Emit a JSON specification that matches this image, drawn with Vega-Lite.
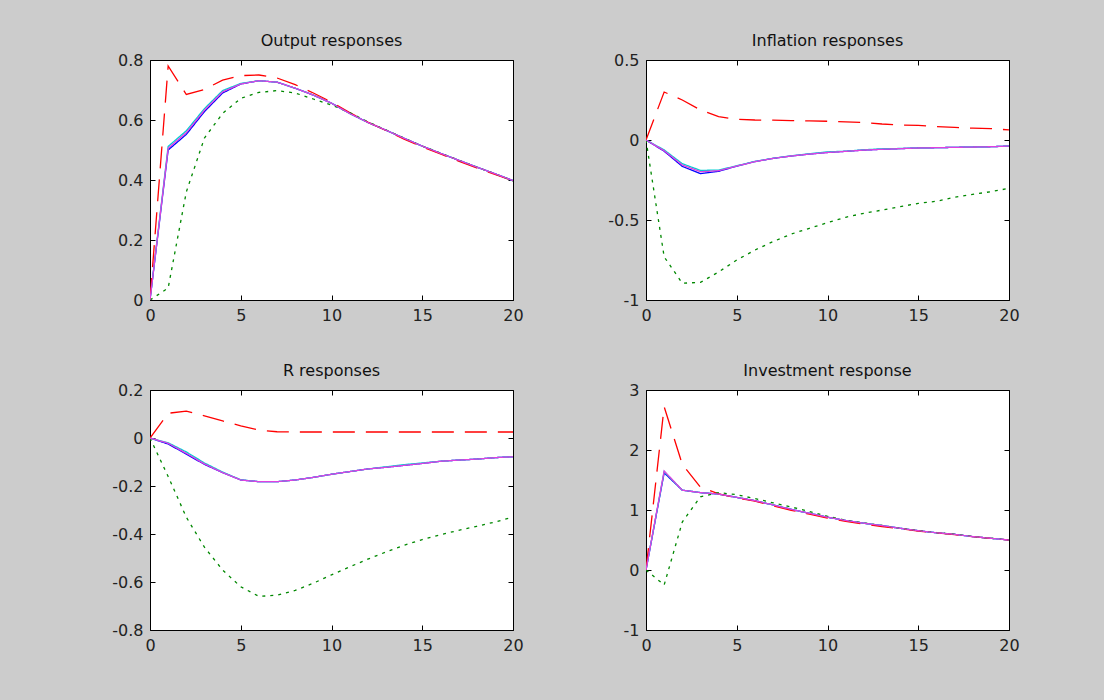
{
"$schema": "https://vega.github.io/schema/vega-lite/v6.json",
"background": "#cccccc",
"padding": {"left": 111, "top": 32, "right": 86, "bottom": 46},
"autosize": {"type": "pad"},
"bounds": "flush",
"columns": 2,
"spacing": {"row": 90, "column": 133},
"data": {"name": "d"},
"datasets": {"d": [
{"p":"o","s":"b","t":0,"v":0},{"p":"o","s":"b","t":1,"v":0.5},{"p":"o","s":"b","t":2,"v":0.552},{"p":"o","s":"b","t":3,"v":0.628},{"p":"o","s":"b","t":4,"v":0.69},{"p":"o","s":"b","t":5,"v":0.72},{"p":"o","s":"b","t":6,"v":0.731},{"p":"o","s":"b","t":7,"v":0.726},{"p":"o","s":"b","t":8,"v":0.706},{"p":"o","s":"b","t":9,"v":0.683},{"p":"o","s":"b","t":10,"v":0.656},{"p":"o","s":"b","t":11,"v":0.622},{"p":"o","s":"b","t":12,"v":0.592},{"p":"o","s":"b","t":13,"v":0.566},{"p":"o","s":"b","t":14,"v":0.539},{"p":"o","s":"b","t":15,"v":0.513},{"p":"o","s":"b","t":16,"v":0.489},{"p":"o","s":"b","t":17,"v":0.466},{"p":"o","s":"b","t":18,"v":0.443},{"p":"o","s":"b","t":19,"v":0.421},{"p":"o","s":"b","t":20,"v":0.398},
{"p":"o","s":"c","t":0,"v":0},{"p":"o","s":"c","t":1,"v":0.512},{"p":"o","s":"c","t":2,"v":0.564},{"p":"o","s":"c","t":3,"v":0.638},{"p":"o","s":"c","t":4,"v":0.698},{"p":"o","s":"c","t":5,"v":0.722},{"p":"o","s":"c","t":6,"v":0.731},{"p":"o","s":"c","t":7,"v":0.726},{"p":"o","s":"c","t":8,"v":0.706},{"p":"o","s":"c","t":9,"v":0.683},{"p":"o","s":"c","t":10,"v":0.656},{"p":"o","s":"c","t":11,"v":0.622},{"p":"o","s":"c","t":12,"v":0.592},{"p":"o","s":"c","t":13,"v":0.566},{"p":"o","s":"c","t":14,"v":0.539},{"p":"o","s":"c","t":15,"v":0.513},{"p":"o","s":"c","t":16,"v":0.489},{"p":"o","s":"c","t":17,"v":0.466},{"p":"o","s":"c","t":18,"v":0.443},{"p":"o","s":"c","t":19,"v":0.421},{"p":"o","s":"c","t":20,"v":0.398},
{"p":"o","s":"r","t":0,"v":0},{"p":"o","s":"r","t":1,"v":0.78},{"p":"o","s":"r","t":2,"v":0.685},{"p":"o","s":"r","t":3,"v":0.702},{"p":"o","s":"r","t":4,"v":0.733},{"p":"o","s":"r","t":5,"v":0.748},{"p":"o","s":"r","t":6,"v":0.75},{"p":"o","s":"r","t":7,"v":0.74},{"p":"o","s":"r","t":8,"v":0.718},{"p":"o","s":"r","t":9,"v":0.69},{"p":"o","s":"r","t":10,"v":0.66},{"p":"o","s":"r","t":11,"v":0.625},{"p":"o","s":"r","t":12,"v":0.593},{"p":"o","s":"r","t":13,"v":0.565},{"p":"o","s":"r","t":14,"v":0.536},{"p":"o","s":"r","t":15,"v":0.51},{"p":"o","s":"r","t":16,"v":0.487},{"p":"o","s":"r","t":17,"v":0.463},{"p":"o","s":"r","t":18,"v":0.44},{"p":"o","s":"r","t":19,"v":0.419},{"p":"o","s":"r","t":20,"v":0.397},
{"p":"o","s":"g","t":0,"v":0},{"p":"o","s":"g","t":1,"v":0.04},{"p":"o","s":"g","t":2,"v":0.36},{"p":"o","s":"g","t":3,"v":0.54},{"p":"o","s":"g","t":4,"v":0.622},{"p":"o","s":"g","t":5,"v":0.672},{"p":"o","s":"g","t":6,"v":0.692},{"p":"o","s":"g","t":7,"v":0.698},{"p":"o","s":"g","t":8,"v":0.69},{"p":"o","s":"g","t":9,"v":0.67},{"p":"o","s":"g","t":10,"v":0.65},{"p":"o","s":"g","t":11,"v":0.625},{"p":"o","s":"g","t":12,"v":0.594},{"p":"o","s":"g","t":13,"v":0.567},{"p":"o","s":"g","t":14,"v":0.54},{"p":"o","s":"g","t":15,"v":0.513},{"p":"o","s":"g","t":16,"v":0.49},{"p":"o","s":"g","t":17,"v":0.466},{"p":"o","s":"g","t":18,"v":0.443},{"p":"o","s":"g","t":19,"v":0.421},{"p":"o","s":"g","t":20,"v":0.397},
{"p":"o","s":"m","t":0,"v":0},{"p":"o","s":"m","t":1,"v":0.506},{"p":"o","s":"m","t":2,"v":0.558},{"p":"o","s":"m","t":3,"v":0.633},{"p":"o","s":"m","t":4,"v":0.694},{"p":"o","s":"m","t":5,"v":0.72},{"p":"o","s":"m","t":6,"v":0.731},{"p":"o","s":"m","t":7,"v":0.726},{"p":"o","s":"m","t":8,"v":0.706},{"p":"o","s":"m","t":9,"v":0.683},{"p":"o","s":"m","t":10,"v":0.656},{"p":"o","s":"m","t":11,"v":0.622},{"p":"o","s":"m","t":12,"v":0.592},{"p":"o","s":"m","t":13,"v":0.566},{"p":"o","s":"m","t":14,"v":0.539},{"p":"o","s":"m","t":15,"v":0.513},{"p":"o","s":"m","t":16,"v":0.489},{"p":"o","s":"m","t":17,"v":0.466},{"p":"o","s":"m","t":18,"v":0.443},{"p":"o","s":"m","t":19,"v":0.421},{"p":"o","s":"m","t":20,"v":0.398},

{"p":"i","s":"b","t":0,"v":0},{"p":"i","s":"b","t":1,"v":-0.07},{"p":"i","s":"b","t":2,"v":-0.165},{"p":"i","s":"b","t":3,"v":-0.21},{"p":"i","s":"b","t":4,"v":-0.196},{"p":"i","s":"b","t":5,"v":-0.163},{"p":"i","s":"b","t":6,"v":-0.135},{"p":"i","s":"b","t":7,"v":-0.115},{"p":"i","s":"b","t":8,"v":-0.1},{"p":"i","s":"b","t":9,"v":-0.088},{"p":"i","s":"b","t":10,"v":-0.078},{"p":"i","s":"b","t":11,"v":-0.071},{"p":"i","s":"b","t":12,"v":-0.063},{"p":"i","s":"b","t":13,"v":-0.058},{"p":"i","s":"b","t":14,"v":-0.054},{"p":"i","s":"b","t":15,"v":-0.05},{"p":"i","s":"b","t":16,"v":-0.048},{"p":"i","s":"b","t":17,"v":-0.046},{"p":"i","s":"b","t":18,"v":-0.044},{"p":"i","s":"b","t":19,"v":-0.042},{"p":"i","s":"b","t":20,"v":-0.038},
{"p":"i","s":"c","t":0,"v":0},{"p":"i","s":"c","t":1,"v":-0.062},{"p":"i","s":"c","t":2,"v":-0.148},{"p":"i","s":"c","t":3,"v":-0.19},{"p":"i","s":"c","t":4,"v":-0.188},{"p":"i","s":"c","t":5,"v":-0.161},{"p":"i","s":"c","t":6,"v":-0.134},{"p":"i","s":"c","t":7,"v":-0.114},{"p":"i","s":"c","t":8,"v":-0.099},{"p":"i","s":"c","t":9,"v":-0.086},{"p":"i","s":"c","t":10,"v":-0.074},{"p":"i","s":"c","t":11,"v":-0.07},{"p":"i","s":"c","t":12,"v":-0.061},{"p":"i","s":"c","t":13,"v":-0.055},{"p":"i","s":"c","t":14,"v":-0.053},{"p":"i","s":"c","t":15,"v":-0.05},{"p":"i","s":"c","t":16,"v":-0.048},{"p":"i","s":"c","t":17,"v":-0.046},{"p":"i","s":"c","t":18,"v":-0.044},{"p":"i","s":"c","t":19,"v":-0.042},{"p":"i","s":"c","t":20,"v":-0.038},
{"p":"i","s":"r","t":0,"v":0},{"p":"i","s":"r","t":1,"v":0.3},{"p":"i","s":"r","t":2,"v":0.25},{"p":"i","s":"r","t":3,"v":0.188},{"p":"i","s":"r","t":4,"v":0.146},{"p":"i","s":"r","t":5,"v":0.129},{"p":"i","s":"r","t":6,"v":0.125},{"p":"i","s":"r","t":7,"v":0.124},{"p":"i","s":"r","t":8,"v":0.121},{"p":"i","s":"r","t":9,"v":0.119},{"p":"i","s":"r","t":10,"v":0.117},{"p":"i","s":"r","t":11,"v":0.113},{"p":"i","s":"r","t":12,"v":0.11},{"p":"i","s":"r","t":13,"v":0.1},{"p":"i","s":"r","t":14,"v":0.094},{"p":"i","s":"r","t":15,"v":0.091},{"p":"i","s":"r","t":16,"v":0.084},{"p":"i","s":"r","t":17,"v":0.079},{"p":"i","s":"r","t":18,"v":0.074},{"p":"i","s":"r","t":19,"v":0.071},{"p":"i","s":"r","t":20,"v":0.063},
{"p":"i","s":"g","t":0,"v":0},{"p":"i","s":"g","t":1,"v":-0.73},{"p":"i","s":"g","t":2,"v":-0.895},{"p":"i","s":"g","t":3,"v":-0.89},{"p":"i","s":"g","t":4,"v":-0.825},{"p":"i","s":"g","t":5,"v":-0.75},{"p":"i","s":"g","t":6,"v":-0.688},{"p":"i","s":"g","t":7,"v":-0.635},{"p":"i","s":"g","t":8,"v":-0.588},{"p":"i","s":"g","t":9,"v":-0.552},{"p":"i","s":"g","t":10,"v":-0.517},{"p":"i","s":"g","t":11,"v":-0.483},{"p":"i","s":"g","t":12,"v":-0.458},{"p":"i","s":"g","t":13,"v":-0.438},{"p":"i","s":"g","t":14,"v":-0.417},{"p":"i","s":"g","t":15,"v":-0.396},{"p":"i","s":"g","t":16,"v":-0.383},{"p":"i","s":"g","t":17,"v":-0.358},{"p":"i","s":"g","t":18,"v":-0.34},{"p":"i","s":"g","t":19,"v":-0.323},{"p":"i","s":"g","t":20,"v":-0.302},
{"p":"i","s":"m","t":0,"v":0},{"p":"i","s":"m","t":1,"v":-0.067},{"p":"i","s":"m","t":2,"v":-0.156},{"p":"i","s":"m","t":3,"v":-0.198},{"p":"i","s":"m","t":4,"v":-0.192},{"p":"i","s":"m","t":5,"v":-0.163},{"p":"i","s":"m","t":6,"v":-0.135},{"p":"i","s":"m","t":7,"v":-0.115},{"p":"i","s":"m","t":8,"v":-0.1},{"p":"i","s":"m","t":9,"v":-0.088},{"p":"i","s":"m","t":10,"v":-0.078},{"p":"i","s":"m","t":11,"v":-0.071},{"p":"i","s":"m","t":12,"v":-0.063},{"p":"i","s":"m","t":13,"v":-0.058},{"p":"i","s":"m","t":14,"v":-0.054},{"p":"i","s":"m","t":15,"v":-0.05},{"p":"i","s":"m","t":16,"v":-0.048},{"p":"i","s":"m","t":17,"v":-0.046},{"p":"i","s":"m","t":18,"v":-0.044},{"p":"i","s":"m","t":19,"v":-0.042},{"p":"i","s":"m","t":20,"v":-0.038},

{"p":"r","s":"b","t":0,"v":0},{"p":"r","s":"b","t":1,"v":-0.025},{"p":"r","s":"b","t":2,"v":-0.067},{"p":"r","s":"b","t":3,"v":-0.11},{"p":"r","s":"b","t":4,"v":-0.144},{"p":"r","s":"b","t":5,"v":-0.175},{"p":"r","s":"b","t":6,"v":-0.182},{"p":"r","s":"b","t":7,"v":-0.182},{"p":"r","s":"b","t":8,"v":-0.175},{"p":"r","s":"b","t":9,"v":-0.164},{"p":"r","s":"b","t":10,"v":-0.151},{"p":"r","s":"b","t":11,"v":-0.14},{"p":"r","s":"b","t":12,"v":-0.129},{"p":"r","s":"b","t":13,"v":-0.122},{"p":"r","s":"b","t":14,"v":-0.114},{"p":"r","s":"b","t":15,"v":-0.106},{"p":"r","s":"b","t":16,"v":-0.097},{"p":"r","s":"b","t":17,"v":-0.092},{"p":"r","s":"b","t":18,"v":-0.088},{"p":"r","s":"b","t":19,"v":-0.082},{"p":"r","s":"b","t":20,"v":-0.078},
{"p":"r","s":"c","t":0,"v":0},{"p":"r","s":"c","t":1,"v":-0.02},{"p":"r","s":"c","t":2,"v":-0.058},{"p":"r","s":"c","t":3,"v":-0.104},{"p":"r","s":"c","t":4,"v":-0.142},{"p":"r","s":"c","t":5,"v":-0.174},{"p":"r","s":"c","t":6,"v":-0.182},{"p":"r","s":"c","t":7,"v":-0.182},{"p":"r","s":"c","t":8,"v":-0.175},{"p":"r","s":"c","t":9,"v":-0.164},{"p":"r","s":"c","t":10,"v":-0.151},{"p":"r","s":"c","t":11,"v":-0.14},{"p":"r","s":"c","t":12,"v":-0.129},{"p":"r","s":"c","t":13,"v":-0.12},{"p":"r","s":"c","t":14,"v":-0.111},{"p":"r","s":"c","t":15,"v":-0.104},{"p":"r","s":"c","t":16,"v":-0.097},{"p":"r","s":"c","t":17,"v":-0.092},{"p":"r","s":"c","t":18,"v":-0.088},{"p":"r","s":"c","t":19,"v":-0.082},{"p":"r","s":"c","t":20,"v":-0.078},
{"p":"r","s":"r","t":0,"v":0},{"p":"r","s":"r","t":1,"v":0.103},{"p":"r","s":"r","t":2,"v":0.112},{"p":"r","s":"r","t":3,"v":0.092},{"p":"r","s":"r","t":4,"v":0.071},{"p":"r","s":"r","t":5,"v":0.051},{"p":"r","s":"r","t":6,"v":0.033},{"p":"r","s":"r","t":7,"v":0.026},{"p":"r","s":"r","t":8,"v":0.025},{"p":"r","s":"r","t":9,"v":0.025},{"p":"r","s":"r","t":10,"v":0.025},{"p":"r","s":"r","t":11,"v":0.025},{"p":"r","s":"r","t":12,"v":0.025},{"p":"r","s":"r","t":13,"v":0.025},{"p":"r","s":"r","t":14,"v":0.025},{"p":"r","s":"r","t":15,"v":0.025},{"p":"r","s":"r","t":16,"v":0.025},{"p":"r","s":"r","t":17,"v":0.025},{"p":"r","s":"r","t":18,"v":0.025},{"p":"r","s":"r","t":19,"v":0.025},{"p":"r","s":"r","t":20,"v":0.025},
{"p":"r","s":"g","t":0,"v":0},{"p":"r","s":"g","t":1,"v":-0.16},{"p":"r","s":"g","t":2,"v":-0.33},{"p":"r","s":"g","t":3,"v":-0.455},{"p":"r","s":"g","t":4,"v":-0.55},{"p":"r","s":"g","t":5,"v":-0.62},{"p":"r","s":"g","t":6,"v":-0.66},{"p":"r","s":"g","t":7,"v":-0.655},{"p":"r","s":"g","t":8,"v":-0.635},{"p":"r","s":"g","t":9,"v":-0.605},{"p":"r","s":"g","t":10,"v":-0.57},{"p":"r","s":"g","t":11,"v":-0.537},{"p":"r","s":"g","t":12,"v":-0.505},{"p":"r","s":"g","t":13,"v":-0.475},{"p":"r","s":"g","t":14,"v":-0.447},{"p":"r","s":"g","t":15,"v":-0.423},{"p":"r","s":"g","t":16,"v":-0.403},{"p":"r","s":"g","t":17,"v":-0.385},{"p":"r","s":"g","t":18,"v":-0.368},{"p":"r","s":"g","t":19,"v":-0.35},{"p":"r","s":"g","t":20,"v":-0.33},
{"p":"r","s":"m","t":0,"v":0},{"p":"r","s":"m","t":1,"v":-0.022},{"p":"r","s":"m","t":2,"v":-0.064},{"p":"r","s":"m","t":3,"v":-0.108},{"p":"r","s":"m","t":4,"v":-0.144},{"p":"r","s":"m","t":5,"v":-0.175},{"p":"r","s":"m","t":6,"v":-0.182},{"p":"r","s":"m","t":7,"v":-0.182},{"p":"r","s":"m","t":8,"v":-0.175},{"p":"r","s":"m","t":9,"v":-0.164},{"p":"r","s":"m","t":10,"v":-0.151},{"p":"r","s":"m","t":11,"v":-0.14},{"p":"r","s":"m","t":12,"v":-0.129},{"p":"r","s":"m","t":13,"v":-0.122},{"p":"r","s":"m","t":14,"v":-0.114},{"p":"r","s":"m","t":15,"v":-0.106},{"p":"r","s":"m","t":16,"v":-0.097},{"p":"r","s":"m","t":17,"v":-0.092},{"p":"r","s":"m","t":18,"v":-0.088},{"p":"r","s":"m","t":19,"v":-0.082},{"p":"r","s":"m","t":20,"v":-0.078},

{"p":"v","s":"b","t":0,"v":0},{"p":"v","s":"b","t":1,"v":1.62},{"p":"v","s":"b","t":2,"v":1.33},{"p":"v","s":"b","t":3,"v":1.29},{"p":"v","s":"b","t":4,"v":1.265},{"p":"v","s":"b","t":5,"v":1.21},{"p":"v","s":"b","t":6,"v":1.155},{"p":"v","s":"b","t":7,"v":1.085},{"p":"v","s":"b","t":8,"v":1.01},{"p":"v","s":"b","t":9,"v":0.945},{"p":"v","s":"b","t":10,"v":0.88},{"p":"v","s":"b","t":11,"v":0.825},{"p":"v","s":"b","t":12,"v":0.78},{"p":"v","s":"b","t":13,"v":0.74},{"p":"v","s":"b","t":14,"v":0.695},{"p":"v","s":"b","t":15,"v":0.655},{"p":"v","s":"b","t":16,"v":0.62},{"p":"v","s":"b","t":17,"v":0.595},{"p":"v","s":"b","t":18,"v":0.557},{"p":"v","s":"b","t":19,"v":0.528},{"p":"v","s":"b","t":20,"v":0.5},
{"p":"v","s":"c","t":0,"v":0},{"p":"v","s":"c","t":1,"v":1.64},{"p":"v","s":"c","t":2,"v":1.33},{"p":"v","s":"c","t":3,"v":1.29},{"p":"v","s":"c","t":4,"v":1.265},{"p":"v","s":"c","t":5,"v":1.21},{"p":"v","s":"c","t":6,"v":1.155},{"p":"v","s":"c","t":7,"v":1.085},{"p":"v","s":"c","t":8,"v":1.01},{"p":"v","s":"c","t":9,"v":0.945},{"p":"v","s":"c","t":10,"v":0.88},{"p":"v","s":"c","t":11,"v":0.825},{"p":"v","s":"c","t":12,"v":0.78},{"p":"v","s":"c","t":13,"v":0.74},{"p":"v","s":"c","t":14,"v":0.695},{"p":"v","s":"c","t":15,"v":0.655},{"p":"v","s":"c","t":16,"v":0.62},{"p":"v","s":"c","t":17,"v":0.595},{"p":"v","s":"c","t":18,"v":0.557},{"p":"v","s":"c","t":19,"v":0.528},{"p":"v","s":"c","t":20,"v":0.5},
{"p":"v","s":"r","t":0,"v":0},{"p":"v","s":"r","t":1,"v":2.72},{"p":"v","s":"r","t":2,"v":1.76},{"p":"v","s":"r","t":3,"v":1.38},{"p":"v","s":"r","t":4,"v":1.27},{"p":"v","s":"r","t":5,"v":1.2},{"p":"v","s":"r","t":6,"v":1.15},{"p":"v","s":"r","t":7,"v":1.07},{"p":"v","s":"r","t":8,"v":0.995},{"p":"v","s":"r","t":9,"v":0.93},{"p":"v","s":"r","t":10,"v":0.865},{"p":"v","s":"r","t":11,"v":0.81},{"p":"v","s":"r","t":12,"v":0.765},{"p":"v","s":"r","t":13,"v":0.725},{"p":"v","s":"r","t":14,"v":0.688},{"p":"v","s":"r","t":15,"v":0.65},{"p":"v","s":"r","t":16,"v":0.618},{"p":"v","s":"r","t":17,"v":0.59},{"p":"v","s":"r","t":18,"v":0.555},{"p":"v","s":"r","t":19,"v":0.527},{"p":"v","s":"r","t":20,"v":0.5},
{"p":"v","s":"g","t":0,"v":0},{"p":"v","s":"g","t":1,"v":-0.25},{"p":"v","s":"g","t":2,"v":0.8},{"p":"v","s":"g","t":3,"v":1.22},{"p":"v","s":"g","t":4,"v":1.29},{"p":"v","s":"g","t":5,"v":1.255},{"p":"v","s":"g","t":6,"v":1.19},{"p":"v","s":"g","t":7,"v":1.12},{"p":"v","s":"g","t":8,"v":1.05},{"p":"v","s":"g","t":9,"v":0.975},{"p":"v","s":"g","t":10,"v":0.895},{"p":"v","s":"g","t":11,"v":0.83},{"p":"v","s":"g","t":12,"v":0.783},{"p":"v","s":"g","t":13,"v":0.742},{"p":"v","s":"g","t":14,"v":0.697},{"p":"v","s":"g","t":15,"v":0.658},{"p":"v","s":"g","t":16,"v":0.624},{"p":"v","s":"g","t":17,"v":0.596},{"p":"v","s":"g","t":18,"v":0.558},{"p":"v","s":"g","t":19,"v":0.53},{"p":"v","s":"g","t":20,"v":0.502},
{"p":"v","s":"m","t":0,"v":0},{"p":"v","s":"m","t":1,"v":1.65},{"p":"v","s":"m","t":2,"v":1.33},{"p":"v","s":"m","t":3,"v":1.29},{"p":"v","s":"m","t":4,"v":1.265},{"p":"v","s":"m","t":5,"v":1.21},{"p":"v","s":"m","t":6,"v":1.155},{"p":"v","s":"m","t":7,"v":1.085},{"p":"v","s":"m","t":8,"v":1.01},{"p":"v","s":"m","t":9,"v":0.945},{"p":"v","s":"m","t":10,"v":0.88},{"p":"v","s":"m","t":11,"v":0.825},{"p":"v","s":"m","t":12,"v":0.78},{"p":"v","s":"m","t":13,"v":0.74},{"p":"v","s":"m","t":14,"v":0.695},{"p":"v","s":"m","t":15,"v":0.655},{"p":"v","s":"m","t":16,"v":0.62},{"p":"v","s":"m","t":17,"v":0.595},{"p":"v","s":"m","t":18,"v":0.557},{"p":"v","s":"m","t":19,"v":0.528},{"p":"v","s":"m","t":20,"v":0.5}
]},
"concat": [
{"title": "Output responses", "width": 363, "height": 240,
 "transform": [{"filter": "datum.p == 'o'"}],
 "layer": [
  {"mark": {"type": "line", "strokeWidth": 1.3, "clip": true},
   "encoding": {
    "x": {"field": "t", "type": "quantitative", "scale": {"domain": [0, 20], "nice": false}, "axis": {"values": [0, 5, 10, 15, 20], "title": null}},
    "y": {"field": "v", "type": "quantitative", "scale": {"domain": [0, 0.8], "nice": false, "zero": false}, "axis": {"values": [0, 0.2, 0.4, 0.6, 0.8], "title": null}},
    "color": {"field": "s", "type": "nominal", "scale": {"domain": ["b", "c", "r", "g", "m"], "range": ["#0000ff", "#00d0d0", "#ff0000", "#008800", "#e040e0"]}, "legend": null},
    "strokeDash": {"field": "s", "type": "nominal", "scale": {"domain": ["b", "c", "r", "g", "m"], "range": [[1, 0], [1, 0], [22, 11], [3, 5], [1, 0]]}, "legend": null}
   }},
  {"mark": {"type": "point", "opacity": 0},
   "encoding": {
    "x": {"field": "t", "type": "quantitative", "scale": {"domain": [0, 20], "nice": false}, "axis": {"orient": "top", "values": [0, 5, 10, 15, 20], "labels": false, "title": null}},
    "y": {"field": "v", "type": "quantitative", "scale": {"domain": [0, 0.8], "nice": false, "zero": false}, "axis": {"orient": "right", "values": [0, 0.2, 0.4, 0.6, 0.8], "labels": false, "title": null}}
   }}
 ],
 "resolve": {"axis": {"x": "independent", "y": "independent"}}
},
{"title": "Inflation responses", "width": 363, "height": 240,
 "transform": [{"filter": "datum.p == 'i'"}],
 "layer": [
  {"mark": {"type": "line", "strokeWidth": 1.3, "clip": true},
   "encoding": {
    "x": {"field": "t", "type": "quantitative", "scale": {"domain": [0, 20], "nice": false}, "axis": {"values": [0, 5, 10, 15, 20], "title": null}},
    "y": {"field": "v", "type": "quantitative", "scale": {"domain": [-1, 0.5], "nice": false, "zero": false}, "axis": {"values": [-1, -0.5, 0, 0.5], "title": null}},
    "color": {"field": "s", "type": "nominal", "scale": {"domain": ["b", "c", "r", "g", "m"], "range": ["#0000ff", "#00d0d0", "#ff0000", "#008800", "#e040e0"]}, "legend": null},
    "strokeDash": {"field": "s", "type": "nominal", "scale": {"domain": ["b", "c", "r", "g", "m"], "range": [[1, 0], [1, 0], [22, 11], [3, 5], [1, 0]]}, "legend": null}
   }},
  {"mark": {"type": "point", "opacity": 0},
   "encoding": {
    "x": {"field": "t", "type": "quantitative", "scale": {"domain": [0, 20], "nice": false}, "axis": {"orient": "top", "values": [0, 5, 10, 15, 20], "labels": false, "title": null}},
    "y": {"field": "v", "type": "quantitative", "scale": {"domain": [-1, 0.5], "nice": false, "zero": false}, "axis": {"orient": "right", "values": [-1, -0.5, 0, 0.5], "labels": false, "title": null}}
   }}
 ],
 "resolve": {"axis": {"x": "independent", "y": "independent"}}
},
{"title": "R responses", "width": 363, "height": 240,
 "transform": [{"filter": "datum.p == 'r'"}],
 "layer": [
  {"mark": {"type": "line", "strokeWidth": 1.3, "clip": true},
   "encoding": {
    "x": {"field": "t", "type": "quantitative", "scale": {"domain": [0, 20], "nice": false}, "axis": {"values": [0, 5, 10, 15, 20], "title": null}},
    "y": {"field": "v", "type": "quantitative", "scale": {"domain": [-0.8, 0.2], "nice": false, "zero": false}, "axis": {"values": [-0.8, -0.6, -0.4, -0.2, 0, 0.2], "title": null}},
    "color": {"field": "s", "type": "nominal", "scale": {"domain": ["b", "c", "r", "g", "m"], "range": ["#0000ff", "#00d0d0", "#ff0000", "#008800", "#e040e0"]}, "legend": null},
    "strokeDash": {"field": "s", "type": "nominal", "scale": {"domain": ["b", "c", "r", "g", "m"], "range": [[1, 0], [1, 0], [22, 11], [3, 5], [1, 0]]}, "legend": null}
   }},
  {"mark": {"type": "point", "opacity": 0},
   "encoding": {
    "x": {"field": "t", "type": "quantitative", "scale": {"domain": [0, 20], "nice": false}, "axis": {"orient": "top", "values": [0, 5, 10, 15, 20], "labels": false, "title": null}},
    "y": {"field": "v", "type": "quantitative", "scale": {"domain": [-0.8, 0.2], "nice": false, "zero": false}, "axis": {"orient": "right", "values": [-0.8, -0.6, -0.4, -0.2, 0, 0.2], "labels": false, "title": null}}
   }}
 ],
 "resolve": {"axis": {"x": "independent", "y": "independent"}}
},
{"title": "Investment response", "width": 363, "height": 240,
 "transform": [{"filter": "datum.p == 'v'"}],
 "layer": [
  {"mark": {"type": "line", "strokeWidth": 1.3, "clip": true},
   "encoding": {
    "x": {"field": "t", "type": "quantitative", "scale": {"domain": [0, 20], "nice": false}, "axis": {"values": [0, 5, 10, 15, 20], "title": null}},
    "y": {"field": "v", "type": "quantitative", "scale": {"domain": [-1, 3], "nice": false, "zero": false}, "axis": {"values": [-1, 0, 1, 2, 3], "title": null}},
    "color": {"field": "s", "type": "nominal", "scale": {"domain": ["b", "c", "r", "g", "m"], "range": ["#0000ff", "#00d0d0", "#ff0000", "#008800", "#e040e0"]}, "legend": null},
    "strokeDash": {"field": "s", "type": "nominal", "scale": {"domain": ["b", "c", "r", "g", "m"], "range": [[1, 0], [1, 0], [22, 11], [3, 5], [1, 0]]}, "legend": null}
   }},
  {"mark": {"type": "point", "opacity": 0},
   "encoding": {
    "x": {"field": "t", "type": "quantitative", "scale": {"domain": [0, 20], "nice": false}, "axis": {"orient": "top", "values": [0, 5, 10, 15, 20], "labels": false, "title": null}},
    "y": {"field": "v", "type": "quantitative", "scale": {"domain": [-1, 3], "nice": false, "zero": false}, "axis": {"orient": "right", "values": [-1, 0, 1, 2, 3], "labels": false, "title": null}}
   }}
 ],
 "resolve": {"axis": {"x": "independent", "y": "independent"}}
}
],
"config": {
 "view": {"stroke": "#000000", "strokeWidth": 1, "fill": "#ffffff"},
 "axis": {"domain": false, "grid": false, "ticks": true, "tickSize": 5, "offset": -5, "tickColor": "#000000", "tickWidth": 1,
   "labelFont": "DejaVu Sans", "labelFontSize": 16, "labelColor": "#222222", "labelPadding": 7,
   "labelFlush": false, "labelOverlap": false, "labelBound": false, "format": "~g",
   "labelExpr": "replace(datum.label, '\u2212', '-')"},
 "title": {"font": "DejaVu Sans", "fontSize": 16, "fontWeight": "normal", "color": "#111111", "anchor": "middle", "baseline": "alphabetic", "offset": 3}
}
}
